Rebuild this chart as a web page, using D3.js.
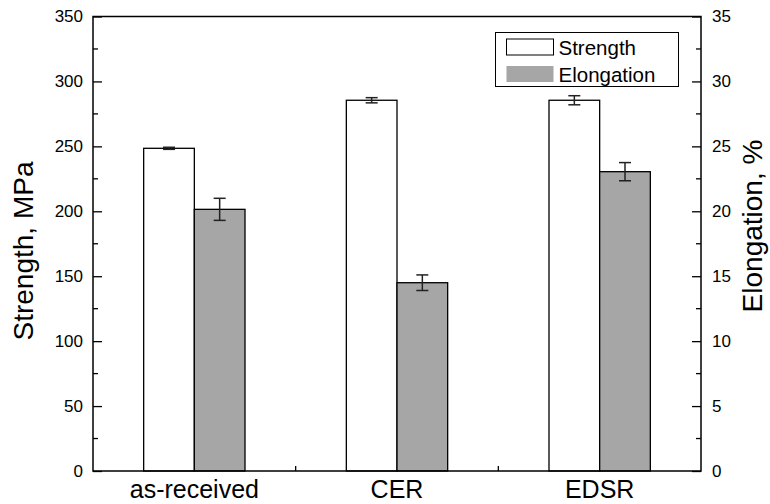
<!DOCTYPE html>
<html>
<head>
<meta charset="utf-8">
<script src="https://cdn.jsdelivr.net/npm/d3@7"></script>
<style>
  body { margin: 0; background: #fff; }
  text { font-family: "Liberation Sans", Arial, sans-serif; fill: #000; }
</style>
</head>
<body>
<div id="chart"></div>
<script>
// data
var categories = ["as-received", "CER", "EDSR"];
var strength = [248.5, 285.5, 285.5];
var strengthErr = [0.8, 2, 3.5];
var elongation = [20.15, 14.5, 23.05];
var elongationErr = [0.85, 0.6, 0.7];
var leftTicks = [0, 50, 100, 150, 200, 250, 300, 350];
var rightTicks = [0, 5, 10, 15, 20, 25, 30, 35];

var W = 770, H = 504;
var margin = {top: 16.5, right: 69, bottom: 33, left: 93};
var w = W - margin.left - margin.right;
var h = H - margin.top - margin.bottom;

var svg = d3.select("#chart").append("svg")
    .attr("width", W)
    .attr("height", H);
var g = svg.append("g")
    .attr("transform", "translate(" + margin.left + "," + margin.top + ")");

var x = d3.scaleBand().domain(categories).range([0, w]).padding(0);
var yL = d3.scaleLinear().domain([0, 350]).range([h, 0]);
var yR = d3.scaleLinear().domain([0, 35]).range([h, 0]);
var bw = x.bandwidth() / 4;

// strength bars (white)
g.selectAll(".sbar").data(categories).enter().append("rect")
    .attr("class", "sbar")
    .attr("x", function(d) { return x(d) + x.bandwidth() / 2 - bw; })
    .attr("y", function(d, i) { return yL(strength[i]); })
    .attr("width", bw)
    .attr("height", function(d, i) { return h - yL(strength[i]); })
    .attr("fill", "#fff").attr("stroke", "#000").attr("stroke-width", 1.3);

// elongation bars (grey)
g.selectAll(".ebar").data(categories).enter().append("rect")
    .attr("class", "ebar")
    .attr("x", function(d) { return x(d) + x.bandwidth() / 2; })
    .attr("y", function(d, i) { return yR(elongation[i]); })
    .attr("width", bw)
    .attr("height", function(d, i) { return h - yR(elongation[i]); })
    .attr("fill", "#a6a6a6").attr("stroke", "#000").attr("stroke-width", 1.3);

function errBars(cls, vals, errs, sc, off) {
  var eg = g.selectAll("." + cls).data(categories).enter().append("g")
      .attr("class", cls)
      .attr("transform", function(d) { return "translate(" + (x(d) + x.bandwidth() / 2 + off) + ",0)"; });
  eg.append("line")
      .attr("y1", function(d, i) { return sc(vals[i] - errs[i]); })
      .attr("y2", function(d, i) { return sc(vals[i] + errs[i]); })
      .attr("stroke", "#222").attr("stroke-width", 1.5);
  [-1, 1].forEach(function(s) {
    eg.append("line")
        .attr("x1", -6).attr("x2", 6)
        .attr("y1", function(d, i) { return sc(vals[i] + s * errs[i]); })
        .attr("y2", function(d, i) { return sc(vals[i] + s * errs[i]); })
        .attr("stroke", "#222").attr("stroke-width", 1.5);
  });
}
errBars("serr", strength, strengthErr, yL, -bw / 2);
errBars("eerr", elongation, elongationErr, yR, bw / 2);

// frame
g.append("rect").attr("width", w).attr("height", h)
    .attr("fill", "none").attr("stroke", "#000").attr("stroke-width", 1.5);

// left axis: major ticks inward + minor
var minorL = d3.range(25, 350, 50);
g.selectAll(".minL").data(minorL).enter().append("line")
    .attr("x1", 0).attr("x2", 5)
    .attr("y1", function(d) { return yL(d); }).attr("y2", function(d) { return yL(d); })
    .attr("stroke", "#000").attr("stroke-width", 1.3);
var axL = g.append("g")
    .call(d3.axisLeft(yL).tickValues(leftTicks).tickSize(-9).tickPadding(10).tickFormat(d3.format("d")));
axL.select(".domain").remove();
axL.selectAll("line").attr("stroke-width", 1.3);
axL.selectAll("text").style("font-size", "17px");

var minorR = d3.range(2.5, 35, 5);
g.selectAll(".minR").data(minorR).enter().append("line")
    .attr("x1", w).attr("x2", w - 5)
    .attr("y1", function(d) { return yR(d); }).attr("y2", function(d) { return yR(d); })
    .attr("stroke", "#000").attr("stroke-width", 1.3);
var axR = g.append("g")
    .attr("transform", "translate(" + w + ",0)")
    .call(d3.axisRight(yR).tickValues(rightTicks).tickSize(-9).tickPadding(11).tickFormat(d3.format("d")));
axR.select(".domain").remove();
axR.selectAll("line").attr("stroke-width", 1.3);
axR.selectAll("text").style("font-size", "17px");

// small inward ticks between the groups
g.selectAll(".btick").data(categories.slice(1)).enter().append("line")
    .attr("x1", function(d) { return x(d); }).attr("x2", function(d) { return x(d); })
    .attr("y1", h).attr("y2", h - 5)
    .attr("stroke", "#000").attr("stroke-width", 1.3);

// category labels
var axB = g.append("g")
    .attr("transform", "translate(0," + h + ")")
    .call(d3.axisBottom(x).tickSize(0));
axB.select(".domain").remove();
axB.selectAll("text").attr("y", 26.5).attr("dy", 0).style("font-size", "25px");

// axis titles
svg.append("text")
    .attr("transform", "translate(33," + 251 + ") rotate(-90)")
    .attr("text-anchor", "middle")
    .style("font-size", "28px")
    .text("Strength, MPa");
svg.append("text")
    .attr("transform", "translate(762," + 226 + ") rotate(-90)")
    .attr("text-anchor", "middle")
    .style("font-size", "28px")
    .text("Elongation, %");

// legend
var lg = svg.append("g").attr("transform", "translate(495.5,32.5)");
lg.append("rect").attr("width", 183).attr("height", 54)
    .attr("fill", "#fff").attr("stroke", "#000").attr("stroke-width", 1);
var leg = [["Strength", "#fff", "#000"], ["Elongation", "#a6a6a6", "none"]];
leg.forEach(function(l, i) {
  lg.append("rect")
      .attr("x", 11).attr("y", 6.5 + i * 27)
      .attr("width", 47).attr("height", 16)
      .attr("fill", l[1]).attr("stroke", l[2]).attr("stroke-width", 1);
  lg.append("text")
      .attr("x", 63).attr("y", 15 + i * 27)
      .attr("dy", "0.35em")
      .style("font-size", "20.5px")
      .text(l[0]);
});
</script>
</body>
</html>
